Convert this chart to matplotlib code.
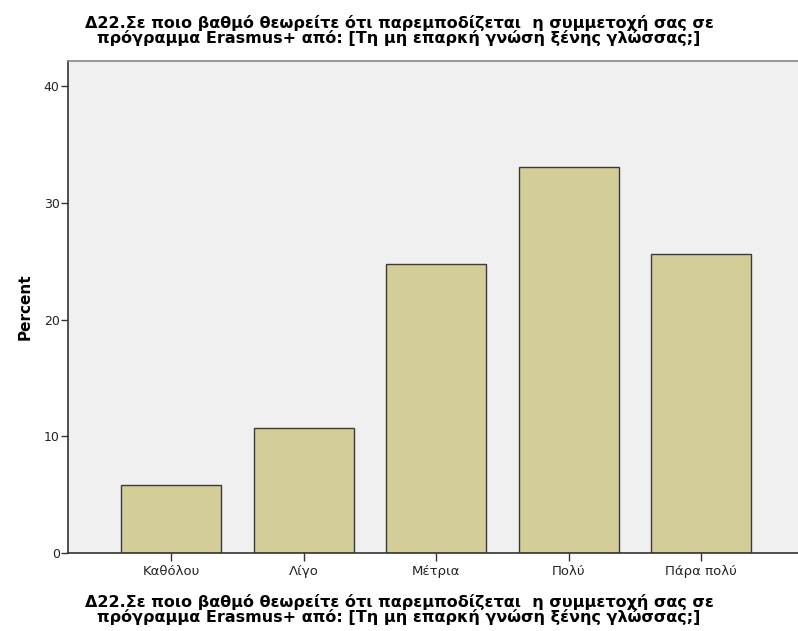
import matplotlib
matplotlib.use("Agg")
import matplotlib.pyplot as plt

# data
categories = ["Καθόλου", "Λίγο", "Μέτρια", "Πολύ", "Πάρα πολύ"]
percent = [5.8, 10.7, 24.8, 33.1, 25.6]
yticks = [0, 10, 20, 30, 40]

title = ("Δ22.Σε ποιο βαθμό θεωρείτε ότι παρεμποδίζεται  η συμμετοχή σας σε\n"
         "πρόγραμμα Erasmus+ από: [Τη μη επαρκή γνώση ξένης γλώσσας;]")

plt.rcParams['font.family'] = ['DejaVu Sans']

W, H = 798, 631
fig = plt.figure(figsize=(W / 100, H / 100), dpi=100)
fig.patch.set_facecolor("white")
ax = fig.add_axes([68 / W, 1 - 553 / H, 1 - 68 / W, (553 - 60.5) / H])
ax.set_facecolor("#F0F0F0")

x = list(range(len(categories)))
ax.bar(x, percent, width=0.755, color="#D3CE97", edgecolor="#3A3A3A", linewidth=1.0)

ax.set_xlim(-0.78, 4.73)
ax.set_ylim(0, 42.2)
ax.set_yticks(yticks)
ax.set_xticks(x)
ax.set_xticklabels(categories, va="baseline")
ax.tick_params(axis="y", length=5, width=1, color="#333333", labelsize=9,
               labelcolor="#222222", pad=1)
ax.tick_params(axis="x", length=6, width=1, color="#333333", labelsize=9.5,
               labelcolor="#222222", pad=10)

for s in ["left", "bottom"]:
    ax.spines[s].set_color("#333333")
    ax.spines[s].set_linewidth(1.2)
ax.spines["top"].set_color("#888888")
ax.spines["top"].set_linewidth(1.2)
ax.spines["right"].set_visible(False)

ax.set_ylabel("Percent", fontsize=11, fontweight="bold", labelpad=8)

# title on top and the same text as x-axis caption below
# (va=baseline on multi-line text anchors the last line)
for yb in (43, 622):
    fig.text(0.5, 1 - yb / H, title, ha="center", va="baseline",
             fontsize=11.5, fontweight="bold", linespacing=0.9)

fig.savefig("out.png", dpi=100)
